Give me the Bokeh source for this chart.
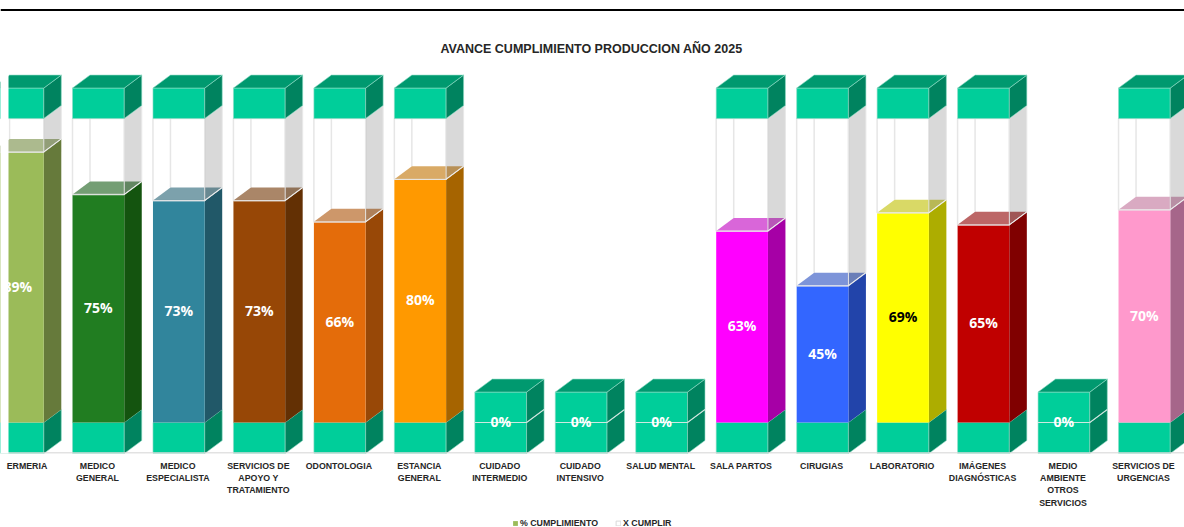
from bokeh.embed import file_html
from bokeh.layouts import column
from bokeh.resources import INLINE
from bokeh.plotting import figure
from bokeh.models import (BoxAnnotation, ColumnDataSource, FixedTicker, Label,
                          Legend, LegendItem, Range1d, Span)

# Production progress by service, 2025
CATEGORIES = ["ERMERIA", "MEDICO\nGENERAL", "MEDICO\nESPECIALISTA",
              "SERVICIOS DE\nAPOYO Y\nTRATAMIENTO", "ODONTOLOGIA", "ESTANCIA\nGENERAL",
              "CUIDADO\nINTERMEDIO", "CUIDADO\nINTENSIVO", "SALUD MENTAL", "SALA PARTOS",
              "CIRUGIAS", "LABORATORIO", "IMÁGENES\nDIAGNÓSTICAS",
              "MEDIO\nAMBIENTE\nOTROS\nSERVICIOS", "SERVICIOS DE\nURGENCIAS"]
CUMPLIMIENTO = [89, 75, 73, 73, 66, 80, 0, 0, 0, 63, 45, 69, 65, 0, 70]
X_CUMPLIR = [11, 25, 27, 27, 34, 20, 0, 0, 0, 37, 55, 31, 35, 0, 30]
COLORES = ["#9BBB59", "#217D21", "#31859C", "#974706", "#E46C0A", "#FF9900", "#00CE9A", "#00CE9A",
           "#00CE9A", "#FF00FF", "#3366FF", "#FFFF00", "#C00000", "#00CE9A", "#FF99CC"]
LATERALES = ["#667A3B", "#14540F", "#215868", "#633004", "#984807", "#A66400", "#00835F", "#00835F",
             "#00835F", "#A600A6", "#2244AA", "#ADAD00", "#800000", "#00835F", "#A6668A"]
ETIQUETA_COLOR = ["white"] * 11 + ["black"] + ["white"] * 3

BASE_H = 10.2        # height of the lower block, in % units
CAP_H = 10.0         # height of the upper block
FRONT_L, FRONT_R = -0.31, 0.333   # front face edges around a tick
DX, DY = 0.2175, 4.28             # oblique depth of the boxes
FIRST_TICK = 0.124   # the first category is cut by the plot's left edge

GREEN_FRONT, GREEN_SIDE, GREEN_TOP = "#00CE9A", "#00835F", "#00996F"
EDGE = "#8FDCC6"

idx = list(range(len(CATEGORIES)))
left = [i + FRONT_L for i in idx]
right = [i + FRONT_R for i in idx]
center = [(a + b) / 2 for a, b in zip(left, right)]
tops = [v + r for v, r in zip(CUMPLIMIENTO, X_CUMPLIR)]


def shade(color, k=0.75):
    r, g, b = (int(color[n:n + 2], 16) for n in (1, 3, 5))
    return "#%02X%02X%02X" % (int(r * k), int(g * k), int(b * k))


def side(i, y0, y1):
    r = right[i]
    return [r, r + DX, r + DX, r], [y0, y0 + DY, y1 + DY, y1]


def top_face(i, y):
    l, r = left[i], right[i]
    return [l, r, r + DX, l + DX], [y, y, y + DY, y + DY]


def polys(builder, ids, lo, hi=None):
    xs, ys = [], []
    for i in ids:
        a, b = builder(i, lo[i], hi[i]) if hi is not None else builder(i, lo[i])
        xs.append(a)
        ys.append(b)
    return xs, ys


x_range = Range1d(-0.205, 14.51)
p = figure(width=1184, height=515, output_backend="svg", toolbar_location=None,
           x_range=x_range, y_range=Range1d(-BASE_H, 138.8),
           min_border_left=0, min_border_right=0, min_border_top=0, min_border_bottom=62,
           outline_line_color=None, background_fill_color="white", border_fill_color="white")
p.grid.visible = False
p.yaxis.visible = False

ticks = [FIRST_TICK] + idx[1:]
ax = p.xaxis[0]
ax.ticker = FixedTicker(ticks=ticks)
ax.major_label_overrides = {t: c for t, c in zip(ticks, CATEGORIES)}
ax.major_label_text_font = "Liberation Sans"
ax.major_label_text_font_style = "bold"
ax.major_label_text_font_size = "8.8px"
ax.major_label_text_color = "#262626"
ax.major_label_text_line_height = 1.24
ax.major_label_standoff = 1
ax.major_label_orientation = "horizontal"
ax.major_tick_line_color = None
ax.minor_tick_line_color = None
ax.axis_line_color = None

p.add_layout(Span(location=135.7, dimension="width", line_color="black", line_width=2))
p.add_layout(Span(location=-BASE_H + 0.2, dimension="width", line_color="#D9D9D9", line_width=1.5))

# lower block
bottoms = [-BASE_H] * len(idx)
zeros = [0] * len(idx)
p.quad(left=left, right=right, bottom=bottoms, top=zeros, fill_color=GREEN_FRONT,
       line_color=EDGE, line_width=0.6)
xs, ys = polys(side, idx, bottoms, zeros)
p.patches(xs, ys, fill_color=GREEN_SIDE, line_color=EDGE, line_width=0.6)

# achieved share: side, front and translucent top
filled = [i for i in idx if CUMPLIMIENTO[i] > 0]
xs, ys = polys(side, filled, zeros, CUMPLIMIENTO)
p.patches(xs, ys, fill_color=[LATERALES[i] for i in filled], line_color=None)
done_src = ColumnDataSource(dict(left=[left[i] for i in filled], right=[right[i] for i in filled],
                                 bottom=[0] * len(filled), top=[CUMPLIMIENTO[i] for i in filled],
                                 color=[COLORES[i] for i in filled]))
p.quad(left="left", right="right", bottom="bottom", top="top", fill_color="color",
       line_color=None, source=done_src)

# remaining share: empty front, inner edge and grey side wall
rest = [i for i in idx if X_CUMPLIR[i] > 0]
rest_src = ColumnDataSource(dict(left=[left[i] for i in rest], right=[right[i] for i in rest],
                                 bottom=[CUMPLIMIENTO[i] for i in rest], top=[tops[i] for i in rest]))
p.quad(left="left", right="right", bottom="bottom", top="top", fill_color="white",
       line_color="#E6E6E6", line_width=1.5, source=rest_src)
p.segment(x0=[left[i] + DX for i in rest], x1=[left[i] + DX for i in rest],
          y0=[CUMPLIMIENTO[i] + DY for i in rest], y1=[tops[i] + DY for i in rest],
          line_color="#E6E6E6", line_width=1.5)
xs, ys = polys(top_face, filled, CUMPLIMIENTO)
p.patches(xs, ys, fill_color=[shade(COLORES[i]) for i in filled], fill_alpha=0.6, line_color=None)
xs, ys = polys(side, rest, CUMPLIMIENTO, tops)
p.patches(xs, ys, fill_color="black", fill_alpha=0.15, line_color="#E8E8E8", line_width=1)

# upper block
cap_top = [t + CAP_H for t in tops]
p.quad(left=left, right=right, bottom=tops, top=cap_top, fill_color=GREEN_FRONT,
       line_color=EDGE, line_width=0.6)
xs, ys = polys(side, idx, tops, cap_top)
p.patches(xs, ys, fill_color=GREEN_SIDE, line_color=EDGE, line_width=0.6)
xs, ys = polys(top_face, idx, cap_top)
p.patches(xs, ys, fill_color=GREEN_TOP, line_color=EDGE, line_width=0.6)

# pale rim where the achieved share ends
p.multi_line([[left[i], right[i], right[i] + DX] for i in idx],
             [[CUMPLIMIENTO[i], CUMPLIMIENTO[i], CUMPLIMIENTO[i] + DY] for i in idx],
             line_color="#EDEDED", line_alpha=0.75, line_width=1.2)

p.text(x=center, y=[v / 2 + 0.3 for v in CUMPLIMIENTO], text=[f"{v}%" for v in CUMPLIMIENTO],
       text_color=ETIQUETA_COLOR, text_font={"value": "Open Sans"}, text_font_style="bold",
       text_font_size="14px", text_align="center", text_baseline="middle")

p.add_layout(Label(x=7.14, y=122.7, text="AVANCE CUMPLIMIENTO PRODUCCION AÑO 2025",
                   text_font="Liberation Sans", text_font_style="bold",
                   text_font_size="12.5px", text_color="#262626",
                   text_align="center", text_baseline="middle"))

# the plot starts a few pixels in from the page edge
p.add_layout(BoxAnnotation(left=0, right=8, top=12, bottom=527, left_units="canvas",
                           right_units="canvas", top_units="canvas", bottom_units="canvas",
                           fill_color="white", fill_alpha=1, line_color=None, level="overlay"))

# legend strip under the chart; its bars lie outside the strip's own y range
strip = figure(width=1184, height=12, output_backend="svg", toolbar_location=None,
               x_range=x_range, y_range=Range1d(-100, -90),
               min_border_left=0, min_border_right=0, min_border_top=0, min_border_bottom=0,
               outline_line_color=None, background_fill_color="white", border_fill_color="white")
strip.axis.visible = False
strip.grid.visible = False
done_key = strip.quad(left="left", right="right", bottom="bottom", top="top", fill_color="color",
                      line_color=None, source=done_src)
rest_key = strip.quad(left="left", right="right", bottom="bottom", top="top", fill_color="white",
                      line_color="#D9D9D9", source=rest_src)
legend = Legend(items=[LegendItem(label="% CUMPLIMIENTO", renderers=[done_key], index=0),
                       LegendItem(label="X CUMPLIR", renderers=[rest_key], index=0)],
                orientation="horizontal", location=(512, -1), border_line_color=None,
                background_fill_alpha=0, glyph_width=6, glyph_height=6, spacing=17,
                label_standoff=2, padding=0, margin=0,
                label_text_font="Liberation Sans", label_text_font_style="bold",
                label_text_font_size="8.8px", label_text_color="#262626")
strip.add_layout(legend, "center")

page = column(p, strip, spacing=0)
open("out.html", "w").write(file_html(page, INLINE))
